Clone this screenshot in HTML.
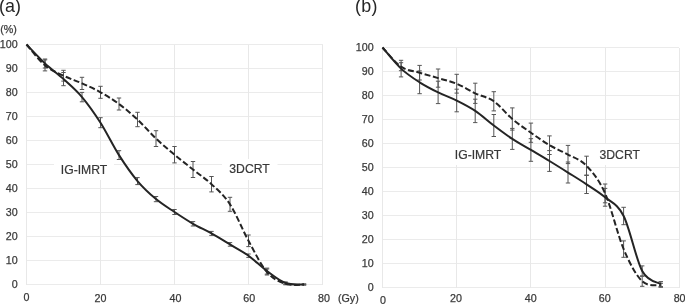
<!DOCTYPE html>
<html><head><meta charset="utf-8"><style>
html,body{margin:0;padding:0;background:#fff;}
body{width:685px;height:304px;overflow:hidden;}
svg{display:block;font-family:"Liberation Sans", sans-serif;will-change:transform;}
</style></head><body>
<svg width="685" height="304" viewBox="0 0 685 304">
<rect width="685" height="304" fill="#fff"/>
<g stroke="#e8e8e8" stroke-width="1" shape-rendering="crispEdges"><line x1="26.5" y1="284.5" x2="322.5" y2="284.5" stroke="#ebebeb"/><line x1="26.5" y1="260.5" x2="322.5" y2="260.5" stroke="#ebebeb"/><line x1="26.5" y1="236.5" x2="322.5" y2="236.5" stroke="#ebebeb"/><line x1="26.5" y1="212.5" x2="322.5" y2="212.5" stroke="#ebebeb"/><line x1="26.5" y1="188.5" x2="322.5" y2="188.5" stroke="#ebebeb"/><line x1="26.5" y1="164.5" x2="322.5" y2="164.5" stroke="#ebebeb"/><line x1="26.5" y1="140.5" x2="322.5" y2="140.5" stroke="#ebebeb"/><line x1="26.5" y1="116.5" x2="322.5" y2="116.5" stroke="#ebebeb"/><line x1="26.5" y1="92.5" x2="322.5" y2="92.5" stroke="#ebebeb"/><line x1="26.5" y1="68.5" x2="322.5" y2="68.5" stroke="#ebebeb"/><line x1="26.5" y1="44.5" x2="322.5" y2="44.5" stroke="#ebebeb"/><line x1="26.5" y1="44.5" x2="26.5" y2="284.5"/><line x1="100.5" y1="44.5" x2="100.5" y2="284.5"/><line x1="174.5" y1="44.5" x2="174.5" y2="284.5"/><line x1="248.5" y1="44.5" x2="248.5" y2="284.5"/><line x1="322.5" y1="44.5" x2="322.5" y2="284.5"/></g>
<g stroke="#e8e8e8" stroke-width="1" shape-rendering="crispEdges"><line x1="382.5" y1="287.5" x2="679.3" y2="287.5" stroke="#ebebeb"/><line x1="382.5" y1="263.5" x2="679.3" y2="263.5" stroke="#ebebeb"/><line x1="382.5" y1="239.5" x2="679.3" y2="239.5" stroke="#ebebeb"/><line x1="382.5" y1="215.5" x2="679.3" y2="215.5" stroke="#ebebeb"/><line x1="382.5" y1="191.5" x2="679.3" y2="191.5" stroke="#ebebeb"/><line x1="382.5" y1="167.5" x2="679.3" y2="167.5" stroke="#ebebeb"/><line x1="382.5" y1="143.5" x2="679.3" y2="143.5" stroke="#ebebeb"/><line x1="382.5" y1="119.5" x2="679.3" y2="119.5" stroke="#ebebeb"/><line x1="382.5" y1="95.5" x2="679.3" y2="95.5" stroke="#ebebeb"/><line x1="382.5" y1="71.5" x2="679.3" y2="71.5" stroke="#ebebeb"/><line x1="382.5" y1="47.5" x2="679.3" y2="47.5" stroke="#ebebeb"/><line x1="382.5" y1="47.5" x2="382.5" y2="287.5"/><line x1="456.7" y1="47.5" x2="456.7" y2="287.5"/><line x1="530.9" y1="47.5" x2="530.9" y2="287.5"/><line x1="605.1" y1="47.5" x2="605.1" y2="287.5"/><line x1="679.3" y1="47.5" x2="679.3" y2="287.5"/></g>
<rect x="54.0" y="159.0" width="60.0" height="21.0" fill="#fff"/>
<rect x="222.0" y="159.0" width="55.5" height="21.0" fill="#fff"/>
<rect x="448.0" y="144.0" width="61.0" height="21.0" fill="#fff"/>
<rect x="592.5" y="144.0" width="55.0" height="21.0" fill="#fff"/>
<path d="M45.0,59.0V68.0M42.8,59.0H47.2M42.8,68.0H47.2M63.5,72.5V85.7M61.3,72.5H65.7M61.3,85.7H65.7M82.0,92.4V101.8M79.8,92.4H84.2M79.8,101.8H84.2M100.5,117.7V127.7M98.3,117.7H102.7M98.3,127.7H102.7M119.0,150.7V159.5M116.8,150.7H121.2M116.8,159.5H121.2M137.5,177.6V184.6M135.3,177.6H139.7M135.3,184.6H139.7M156.0,196.5V201.7M153.8,196.5H158.2M153.8,201.7H158.2M174.5,209.5V214.5M172.3,209.5H176.7M172.3,214.5H176.7M193.0,221.6V226.0M190.8,221.6H195.2M190.8,226.0H195.2M211.5,231.4V235.4M209.3,231.4H213.7M209.3,235.4H213.7M230.0,242.6V246.2M227.8,242.6H232.2M227.8,246.2H232.2M248.5,254.0V257.4M246.3,254.0H250.7M246.3,257.4H250.7M267.0,268.1V274.1M264.8,268.1H269.2M264.8,274.1H269.2M285.5,281.9V284.3M283.3,281.9H287.7M283.3,284.3H287.7M304.0,284.0V285.0M301.8,284.0H306.2M301.8,285.0H306.2" fill="none" stroke="#555555" stroke-width="1"/>
<path d="M45.0,59.9V70.9M42.8,59.9H47.2M42.8,70.9H47.2M63.5,70.3V81.1M61.3,70.3H65.7M61.3,81.1H65.7M82.0,77.3V89.5M79.8,77.3H84.2M79.8,89.5H84.2M100.5,86.3V98.3M98.3,86.3H102.7M98.3,98.3H102.7M119.0,98.0V110.0M116.8,98.0H121.2M116.8,110.0H121.2M137.5,112.3V126.7M135.3,112.3H139.7M135.3,126.7H139.7M156.0,130.7V146.5M153.8,130.7H158.2M153.8,146.5H158.2M174.5,146.5V162.9M172.3,146.5H176.7M172.3,162.9H176.7M193.0,161.5V177.5M190.8,161.5H195.2M190.8,177.5H195.2M211.5,176.5V191.9M209.3,176.5H213.7M209.3,191.9H213.7M230.0,197.3V211.3M227.8,197.3H232.2M227.8,211.3H232.2M248.5,235.0V246.6M246.3,235.0H250.7M246.3,246.6H250.7M267.0,269.0V275.0M264.8,269.0H269.2M264.8,275.0H269.2M285.5,282.8V284.8M283.3,282.8H287.7M283.3,284.8H287.7M304.0,284.0V285.0M301.8,284.0H306.2M301.8,285.0H306.2" fill="none" stroke="#555555" stroke-width="1"/>
<path d="M26.50,44.50 C29.58,47.98 38.83,60.18 45.00,65.38 C51.17,70.58 57.33,72.70 63.50,75.70 C69.67,78.70 75.83,80.62 82.00,83.38 C88.17,86.14 94.33,88.82 100.50,92.26 C106.67,95.70 112.83,99.48 119.00,104.02 C125.17,108.56 131.33,113.74 137.50,119.50 C143.67,125.26 149.83,132.72 156.00,138.58 C162.17,144.44 168.33,149.50 174.50,154.66 C180.67,159.82 186.83,164.62 193.00,169.54 C199.17,174.46 205.33,178.38 211.50,184.18 C217.67,189.98 223.83,194.90 230.00,204.34 C236.17,213.78 242.33,229.54 248.50,240.82 C254.67,252.10 260.83,264.86 267.00,272.02 C273.17,279.18 279.33,281.70 285.50,283.78 C291.67,285.86 300.92,284.38 304.00,284.50" fill="none" stroke="#242424" stroke-width="2.0" stroke-dasharray="6 2.6" stroke-linejoin="round"/>
<path d="M26.50,44.50 C29.58,47.66 38.83,57.70 45.00,63.46 C51.17,69.22 57.33,73.46 63.50,79.06 C69.67,84.66 75.83,89.78 82.00,97.06 C88.17,104.34 94.33,113.06 100.50,122.74 C106.67,132.42 112.83,145.42 119.00,155.14 C125.17,164.86 131.33,173.74 137.50,181.06 C143.67,188.38 149.83,193.90 156.00,199.06 C162.17,204.22 168.33,207.90 174.50,212.02 C180.67,216.14 186.83,220.22 193.00,223.78 C199.17,227.34 205.33,229.94 211.50,233.38 C217.67,236.82 223.83,240.70 230.00,244.42 C236.17,248.14 242.33,251.26 248.50,255.70 C254.67,260.14 260.83,266.50 267.00,271.06 C273.17,275.62 279.33,280.82 285.50,283.06 C291.67,285.30 300.92,284.26 304.00,284.50" fill="none" stroke="#242424" stroke-width="2.0" stroke-linejoin="round"/>
<path d="M401.1,60.3V76.9M398.9,60.3H403.2M398.9,76.9H403.2M419.6,70.9V93.7M417.4,70.9H421.8M417.4,93.7H421.8M438.1,81.2V103.6M435.9,81.2H440.3M435.9,103.6H440.3M456.7,89.2V111.8M454.5,89.2H458.9M454.5,111.8H458.9M475.2,99.2V122.6M473.1,99.2H477.4M473.1,122.6H477.4M493.8,114.5V136.5M491.6,114.5H496.0M491.6,136.5H496.0M512.3,128.4V149.4M510.1,128.4H514.5M510.1,149.4H514.5M530.9,138.7V161.3M528.7,138.7H533.1M528.7,161.3H533.1M549.5,150.6V171.4M547.2,150.6H551.7M547.2,171.4H551.7M568.0,162.0V183.0M565.8,162.0H570.2M565.8,183.0H570.2M586.5,175.1V193.5M584.3,175.1H588.8M584.3,193.5H588.8M605.1,188.4V206.2M602.9,188.4H607.3M602.9,206.2H607.3M623.6,207.3V224.7M621.4,207.3H625.9M621.4,224.7H625.9M642.2,265.9V275.9M640.0,265.9H644.4M640.0,275.9H644.4M660.8,281.6V286.6M658.5,281.6H663.0M658.5,286.6H663.0" fill="none" stroke="#555555" stroke-width="1"/>
<path d="M401.1,62.7V70.7M398.9,62.7H403.2M398.9,70.7H403.2M419.6,65.4V80.0M417.4,65.4H421.8M417.4,80.0H421.8M438.1,69.0V87.2M435.9,69.0H440.3M435.9,87.2H440.3M456.7,74.3V93.1M454.5,74.3H458.9M454.5,93.1H458.9M475.2,83.2V103.4M473.1,83.2H477.4M473.1,103.4H477.4M493.8,91.7V110.9M491.6,91.7H496.0M491.6,110.9H496.0M512.3,107.9V130.1M510.1,107.9H514.5M510.1,130.1H514.5M530.9,123.1V142.3M528.7,123.1H533.1M528.7,142.3H533.1M549.5,135.9V154.5M547.2,135.9H551.7M547.2,154.5H551.7M568.0,145.4V163.6M565.8,145.4H570.2M565.8,163.6H570.2M586.5,156.2V175.4M584.3,156.2H588.8M584.3,175.4H588.8M605.1,184.0V202.8M602.9,184.0H607.3M602.9,202.8H607.3M623.6,240.9V257.3M621.4,240.9H625.9M621.4,257.3H625.9M642.2,276.3V286.3M640.0,276.3H644.4M640.0,286.3H644.4M660.8,283.3V287.3M658.5,283.3H663.0M658.5,287.3H663.0" fill="none" stroke="#555555" stroke-width="1"/>
<path d="M382.50,47.50 C385.59,50.70 394.87,62.50 401.05,66.70 C407.23,70.90 413.42,70.80 419.60,72.70 C425.78,74.60 431.97,76.26 438.15,78.10 C444.33,79.94 450.52,81.20 456.70,83.74 C462.88,86.28 469.07,90.42 475.25,93.34 C481.43,96.26 487.62,96.98 493.80,101.26 C499.98,105.54 506.17,113.78 512.35,119.02 C518.53,124.26 524.72,128.34 530.90,132.70 C537.08,137.06 543.27,141.54 549.45,145.18 C555.63,148.82 561.82,151.10 568.00,154.54 C574.18,157.98 580.37,159.34 586.55,165.82 C592.73,172.30 598.92,179.54 605.10,193.42 C611.28,207.30 617.47,234.46 623.65,249.10 C629.83,263.74 636.02,275.22 642.20,281.26 C648.38,287.30 657.66,284.66 660.75,285.34" fill="none" stroke="#242424" stroke-width="2.0" stroke-dasharray="6 2.6" stroke-linejoin="round"/>
<path d="M382.50,47.50 C385.59,51.02 394.87,62.82 401.05,68.62 C407.23,74.42 413.42,78.34 419.60,82.30 C425.78,86.26 431.97,89.34 438.15,92.38 C444.33,95.42 450.52,97.46 456.70,100.54 C462.88,103.62 469.07,106.70 475.25,110.86 C481.43,115.02 487.62,120.82 493.80,125.50 C499.98,130.18 506.17,134.86 512.35,138.94 C518.53,143.02 524.72,146.30 530.90,149.98 C537.08,153.66 543.27,157.26 549.45,161.02 C555.63,164.78 561.82,168.66 568.00,172.54 C574.18,176.42 580.37,180.18 586.55,184.30 C592.73,188.42 598.92,191.98 605.10,197.26 C611.28,202.54 617.47,203.70 623.65,215.98 C629.83,228.26 636.02,259.58 642.20,270.94 C648.38,282.30 657.66,281.94 660.75,284.14" fill="none" stroke="#242424" stroke-width="2.0" stroke-linejoin="round"/>
<g font-size="10.7" fill="#3a3a3a" stroke="#3a3a3a" stroke-width="0.25">
<text x="17.6" y="288.2" text-anchor="end">0</text><text x="17.6" y="264.2" text-anchor="end">10</text><text x="17.6" y="240.2" text-anchor="end">20</text><text x="17.6" y="216.2" text-anchor="end">30</text><text x="17.6" y="192.2" text-anchor="end">40</text><text x="17.6" y="168.2" text-anchor="end">50</text><text x="17.6" y="144.2" text-anchor="end">60</text><text x="17.6" y="120.2" text-anchor="end">70</text><text x="17.6" y="96.2" text-anchor="end">80</text><text x="17.6" y="72.2" text-anchor="end">90</text><text x="17.6" y="48.2" text-anchor="end">100</text>
<text x="373.6" y="291.2" text-anchor="end">0</text><text x="373.6" y="267.2" text-anchor="end">10</text><text x="373.6" y="243.2" text-anchor="end">20</text><text x="373.6" y="219.2" text-anchor="end">30</text><text x="373.6" y="195.2" text-anchor="end">40</text><text x="373.6" y="171.2" text-anchor="end">50</text><text x="373.6" y="147.2" text-anchor="end">60</text><text x="373.6" y="123.2" text-anchor="end">70</text><text x="373.6" y="99.2" text-anchor="end">80</text><text x="373.6" y="75.2" text-anchor="end">90</text><text x="373.6" y="51.2" text-anchor="end">100</text>
<text x="26.5" y="300.9" text-anchor="middle">0</text><text x="100.5" y="302.1" text-anchor="middle">20</text><text x="175.4" y="301.9" text-anchor="middle">40</text><text x="249.2" y="301.8" text-anchor="middle">60</text><text x="324.0" y="301.8" text-anchor="middle">80</text>
<text x="382.9" y="303.8" text-anchor="middle">0</text><text x="455.9" y="302.2" text-anchor="middle">20</text><text x="530.7" y="302.3" text-anchor="middle">40</text><text x="604.8" y="302.3" text-anchor="middle">60</text><text x="679.6" y="302.4" text-anchor="middle">80</text>
<text x="338" y="302.2">(Gy)</text>
<text x="0.2" y="32.6">(%)</text>
</g>
<g font-size="12.2" fill="#383838" stroke="#383838" stroke-width="0.2">
<text x="60.8" y="173.9">IG-IMRT</text>
<text x="229.3" y="173.4">3DCRT</text>
<text x="454.8" y="159.2">IG-IMRT</text>
<text x="599.5" y="159.2">3DCRT</text>
</g>
<g font-size="17.9" fill="#262626">
<text x="-1.1" y="12.2" letter-spacing="0.15">(a)</text>
<text x="355.1" y="12.3" letter-spacing="0.25">(b)</text>
</g>
</svg>
</body></html>
